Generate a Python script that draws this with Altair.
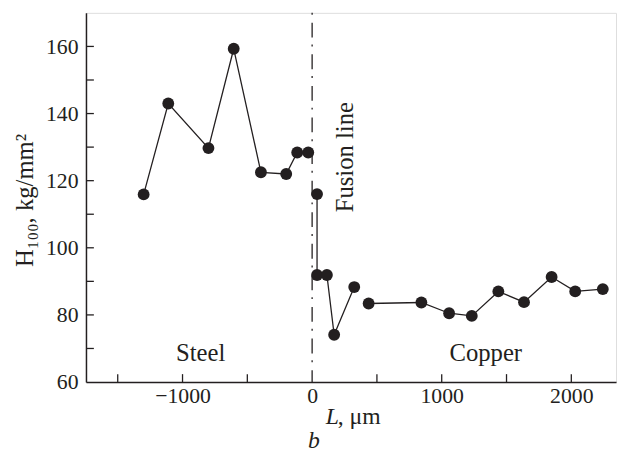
import altair as alt
import pandas as pd

# ---- data ----
L_um = [-1300, -1110, -800, -605, -395, -200, -115, -30,
        38, 38, 114, 170, 325,
        436, 843, 1057, 1232, 1437, 1635, 1848, 2030, 2243]
H100 = [115.9, 143.0, 129.7, 159.3, 122.5, 122.0, 128.4, 128.4,
        116.0, 91.9, 91.9, 74.1, 88.3,
        83.4, 83.7, 80.5, 79.7, 87.0, 83.8, 91.3, 87.0, 87.7]
segment = [1] * 8 + [2] * 5 + [3] * 9

x_label_values = [-1000, 0, 1000, 2000]
y_label_values = [60, 80, 100, 120, 140, 160]
x_tick_values = [-1500, -1000, -500, 500, 1000, 1500, 2000]
y_tick_values = [70, 80, 90, 100, 110, 120, 130, 140, 150, 160]

ann_text = ["Steel", "Copper"]
ann_x = [-860, 1340]
ann_y = [66.2, 66.2]

fusion_text = ["Fusion line"]
fusion_x = [312]
fusion_y = [127]

FONT = "'Liberation Serif', 'Times New Roman', Times, serif"
INK = "#231f20"

df = pd.DataFrame({"L": L_um, "H": H100, "seg": segment})
xticks = pd.DataFrame({"v": x_tick_values})
yticks = pd.DataFrame({"v": y_tick_values})
ann = pd.DataFrame({"t": ann_text, "x": ann_x, "y": ann_y})
fus = pd.DataFrame({"t": fusion_text, "x": fusion_x, "y": fusion_y})

xs = alt.Scale(domain=[-1745, 2345], nice=False, zero=False)
ys = alt.Scale(domain=[60, 170], nice=False, zero=False)

xaxis = alt.Axis(values=x_label_values, format="d", grid=False, ticks=False,
                 tickSize=0, labelPadding=4, title=None, labelFontSize=22,
                 labelFont=FONT, labelColor=INK, domainColor=INK,
                 domainWidth=1.5, labelFlush=False)
yaxis = alt.Axis(values=y_label_values, format="d", grid=False, ticks=False,
                 tickSize=0, labelPadding=8, title=None, labelFontSize=22,
                 labelFont=FONT, labelColor=INK, domainColor=INK,
                 domainWidth=1.5, labelFlush=False)

base = alt.Chart(df)

lines = base.mark_line(color=INK, strokeWidth=1.3).encode(
    x=alt.X("L:Q", scale=xs, axis=xaxis),
    y=alt.Y("H:Q", scale=ys, axis=yaxis),
    detail="seg:N",
)
points = base.mark_point(filled=True, shape="circle", size=144, color=INK,
                         opacity=1).encode(
    x=alt.X("L:Q", scale=xs),
    y=alt.Y("H:Q", scale=ys),
)

fusion_rule = alt.Chart(pd.DataFrame({"v": [0]})).mark_rule(
    color=INK, strokeWidth=1.3, strokeDash=[15, 7, 2, 8], strokeDashOffset=-10
).encode(x=alt.X("v:Q", scale=xs), y=alt.value(0), y2=alt.value(374))

xtick_rules = alt.Chart(xticks).mark_rule(color=INK, strokeWidth=1.3).encode(
    x=alt.X("v:Q", scale=xs), y=alt.value(374), y2=alt.value(366))
ytick_rules = alt.Chart(yticks).mark_rule(color=INK, strokeWidth=1.3).encode(
    y=alt.Y("v:Q", scale=ys), x=alt.value(0), x2=alt.value(8))

ann_marks = alt.Chart(ann).mark_text(font=FONT, fontSize=25, color=INK,
                                     align="center", baseline="alphabetic").encode(
    x=alt.X("x:Q", scale=xs), y=alt.Y("y:Q", scale=ys), text="t:N")

fusion_mark = alt.Chart(fus).mark_text(font=FONT, fontSize=25, color=INK,
                                       align="center", baseline="alphabetic",
                                       angle=270).encode(
    x=alt.X("x:Q", scale=xs), y=alt.Y("y:Q", scale=ys), text="t:N")

ytitle = alt.Chart(pd.DataFrame({"t": ["H₁₀₀, kg/mm²"]})).mark_text(
    font=FONT, fontSize=25, color=INK, align="center", baseline="alphabetic",
    angle=270).encode(x=alt.value(-54), y=alt.value(190), text="t:N")

xtitle_L = alt.Chart(pd.DataFrame({"t": ["L"]})).mark_text(
    font=FONT, fontSize=24, fontStyle="italic", color=INK, align="left",
    baseline="alphabetic").encode(x=alt.value(243), y=alt.value(417), text="t:N")
xtitle_rest = alt.Chart(pd.DataFrame({"t": [", μm"]})).mark_text(
    font=FONT, fontSize=24, color=INK, align="left",
    baseline="alphabetic").encode(x=alt.value(255), y=alt.value(417), text="t:N")
panel_b = alt.Chart(pd.DataFrame({"t": ["b"]})).mark_text(
    font=FONT, fontSize=24, fontStyle="italic", color=INK, align="center",
    baseline="alphabetic").encode(x=alt.value(231), y=alt.value(441), text="t:N")

chart = alt.layer(
    fusion_rule, xtick_rules, ytick_rules, lines, points, ann_marks,
    fusion_mark, ytitle, xtitle_L, xtitle_rest, panel_b
).properties(
    width=537, height=374,
    autosize=alt.AutoSizeParams(type="none"),
    padding={"left": 79, "top": 2, "right": 2, "bottom": 72},
).configure_view(
    stroke=INK, strokeWidth=1.5
).configure(background="white")

chart.save("out.html", embed_options={"renderer": "svg", "actions": False})
